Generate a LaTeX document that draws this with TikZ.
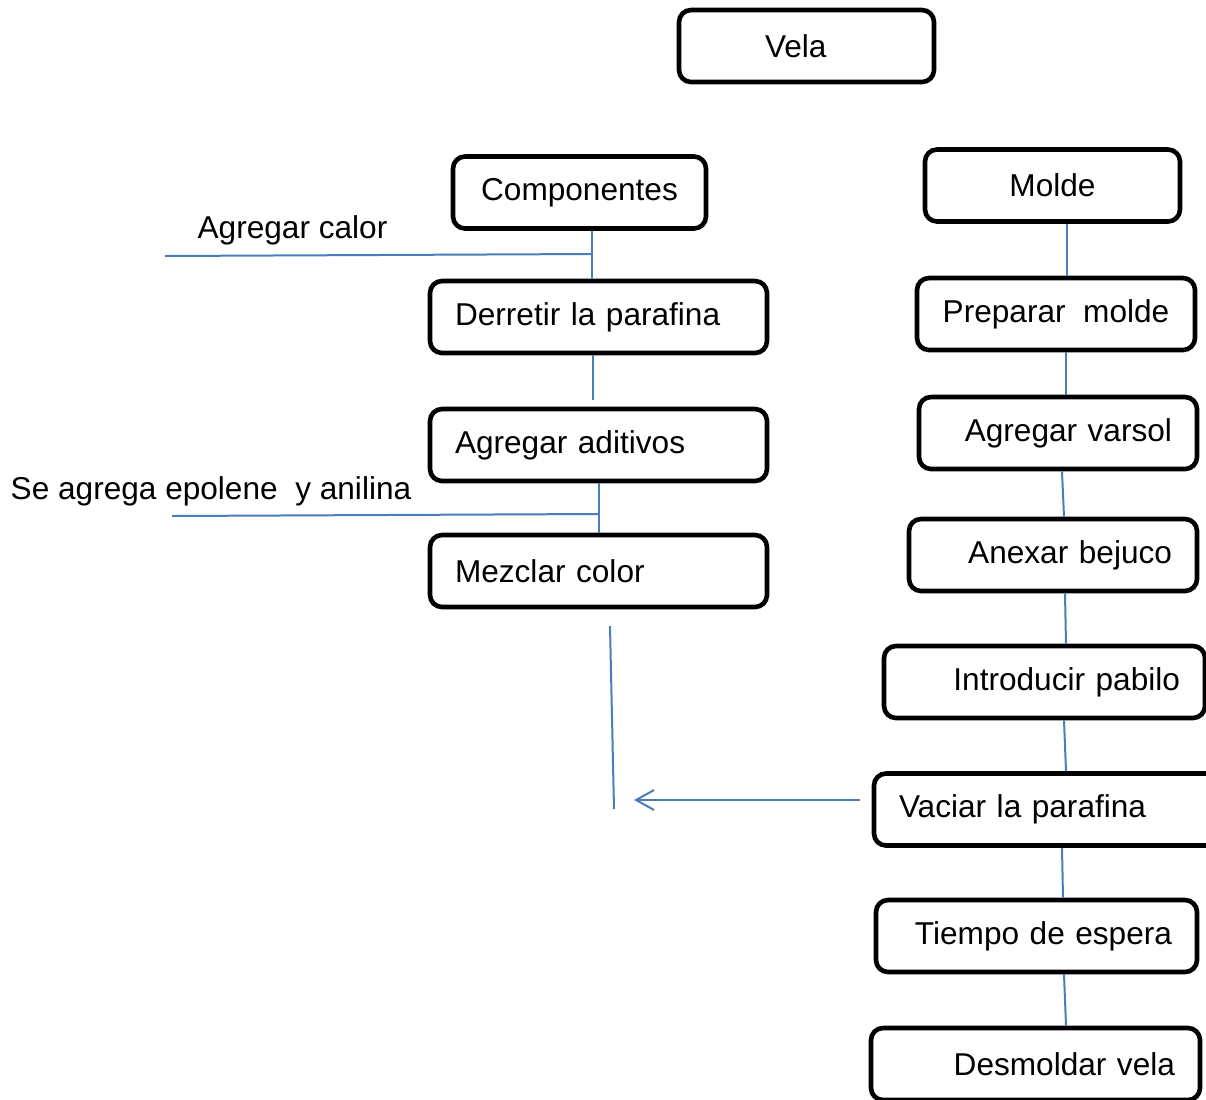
\documentclass[tikz,border=0pt]{standalone}
\usepackage{fontspec}
\setmainfont{Liberation Sans}
\usetikzlibrary{arrows.meta}
\definecolor{linkblue}{RGB}{74,126,187}

\begin{document}
\begin{tikzpicture}[x=0.5pt,y=-0.5pt,
    font=\fontsize{15.8}{19}\selectfont,
    box/.style={draw, line width=2.3pt, rounded corners=6pt, minimum height=36pt},
    lbox/.style={box, inner xsep=12.5pt, align=left},
    rbox/.style={box, inner xsep=12.5pt, align=right},
    link/.style={draw=linkblue, line width=1pt}]
    \useasboundingbox (0,0) rectangle (1206,1099);

    % draw top box
    \node[lbox, inner xsep=43pt, text width=41.5pt] (vela) at (806.5,46) {Vela};

    % draw left column
    \node[box, minimum width=126.5pt] (comp) at (579.5,192.5) {Componentes};
    \node[lbox, text width=143.5pt] (derretir) at (598.5,317) {Derretir la parafina};
    \node[lbox, text width=143.5pt] (aditivos) at (598.5,445) {Agregar aditivos};
    \node[lbox, text width=143.5pt] (mezclar) at (598.5,571) {Mezclar color};

    % draw right column
    \node[box, minimum width=127.5pt] (molde) at (1052.5,185.5) {Molde};
    \node[box, minimum width=139pt] (preparar) at (1056,314) {Preparar\ \ molde};
    \node[rbox, text width=114pt] (varsol) at (1058,433) {Agregar varsol};
    \node[rbox, text width=119pt] (anexar) at (1053,555) {Anexar bejuco};
    \node[rbox, text width=135.5pt] (pabilo) at (1044.5,682) {Introducir pabilo};
    \node[lbox, text width=148pt] (vaciar) at (1047,809.5) {Vaciar la parafina};
    \node[rbox, text width=135.5pt] (espera) at (1036.5,936) {Tiempo de espera};
    \node[rbox, text width=139.5pt] (desmoldar) at (1035.5,1064) {Desmoldar vela};

    % draw side labels
    \node (calor) at (292.5,230) {Agregar calor};
    \node (epolene) at (211,491) {Se agrega epolene\ \ y anilina};

    \coordinate (calorend) at (165,256);
    \coordinate (calorjoin) at (592,254);
    \coordinate (epoleneend) at (172,516);
    \coordinate (epolenejoin) at (598,514);
    \coordinate (vtop) at (610,626);
    \coordinate (vbottom) at (614,809);
    \coordinate (arrowtip) at (634,800);

    % draw left connectors
    \draw[link] ([xshift=6.25pt]comp.south) -- ([xshift=-3.25pt]derretir.north);
    \draw[link] (calorend) -- (calorjoin);
    \draw[link, shorten >=3.5pt] ([xshift=-2.75pt]derretir.south) -- ([xshift=-2.75pt]aditivos.north);
    \draw[link] (aditivos.south) -- (mezclar.north);
    \draw[link] (epoleneend) -- (epolenejoin);
    \draw[link] (vtop) -- (vbottom);
    \draw[link, -{Straight Barb[length=9pt,width=10pt]}] ([xshift=-6pt,yshift=4.75pt]vaciar.west) -- (arrowtip);

    % draw right connectors
    \foreach \a/\sa/\b/\sb in {molde/7.25/preparar/5.5, preparar/5/varsol/4, varsol/2/anexar/5.5,
        anexar/6/pabilo/10.75, pabilo/9.75/vaciar/9.5, vaciar/7.5/espera/13.25, espera/13.75/desmoldar/15.25}
    \draw[link] ([xshift=\sa pt]\a.south) -- ([xshift=\sb pt]\b.north);
\end{tikzpicture}
\end{document}
